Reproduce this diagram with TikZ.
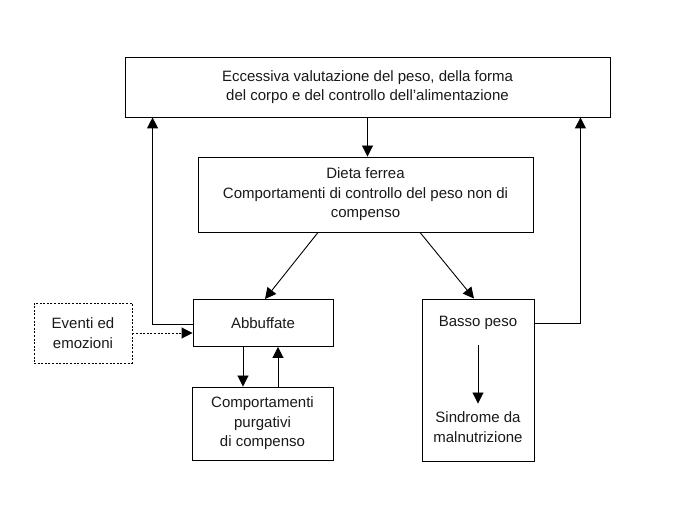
\documentclass[tikz,border=0pt]{standalone}
\usepackage{fontspec}
\setmainfont{Liberation Sans}
\usetikzlibrary{arrows.meta}
\begin{document}
\begin{tikzpicture}[x=1pt,y=-1pt,
  every node/.style={font=\fontsize{15}{19.5}\selectfont, text=black!90},
  box/.style={draw, line width=0.9pt, align=center, inner sep=0pt},
  txt/.style={align=center, inner sep=0pt},
  conn/.style={line width=0.9pt, -{Triangle[length=11pt,width=11pt]}},
  dotconn/.style={conn, dash pattern=on 2pt off 1.6pt}]
\useasboundingbox (0,0) rectangle (689,513);
\node[box, minimum width=485, minimum height=60] (top) at (367.5,87)
  {Eccessiva valutazione del peso, della forma\\del corpo e del controllo dell’alimentazione};
\node[box, minimum width=335, minimum height=75] (dieta) at (365.5,194.5)
  {Dieta ferrea\\Comportamenti di controllo del peso non di\\compenso};
\node[box, minimum width=140, minimum height=47] (abb) at (263,323) {Abbuffate};
\node[box, dash pattern=on 2pt off 1.6pt, minimum width=98, minimum height=60] (ev) at (83,333)
  {Eventi ed\\emozioni};
\node[box, minimum width=141, minimum height=73] (comp) at (262.5,423.5)
  {Comportamenti\\purgativi\\di compenso};
\node[box, minimum width=112, minimum height=162] (basso) at (478,380) {};
\node[txt] (bp) at (478,323) {Basso peso};
\node[txt] (sm) at (478,427) {Sindrome da\\malnutrizione};
% connectors
\draw[conn] (top.south) -- (top.south |- dieta.north);
\draw[conn] ([xshift=-47.5]dieta.south) -- ([xshift=2]abb.north);
\draw[conn] ([xshift=54.5]dieta.south) -- ([xshift=-4]basso.north);
\draw[conn] ([yshift=-1]abb.west) -| ([xshift=28]top.south west);
\draw[conn] (bp -| basso.east) -| ([xshift=-30]top.south east);
\draw[dotconn] (ev.east) -- (ev.east -| abb.west);
\draw[conn] ([xshift=-20]abb.south) -- ([xshift=-20]abb.south |- comp.north);
\draw[conn] ([xshift=15]abb.south |- comp.north) -- ([xshift=15]abb.south);
\draw[conn, shorten <=15pt, shorten >=8pt] (bp.south) -- (sm.north);
\end{tikzpicture}
\end{document}
